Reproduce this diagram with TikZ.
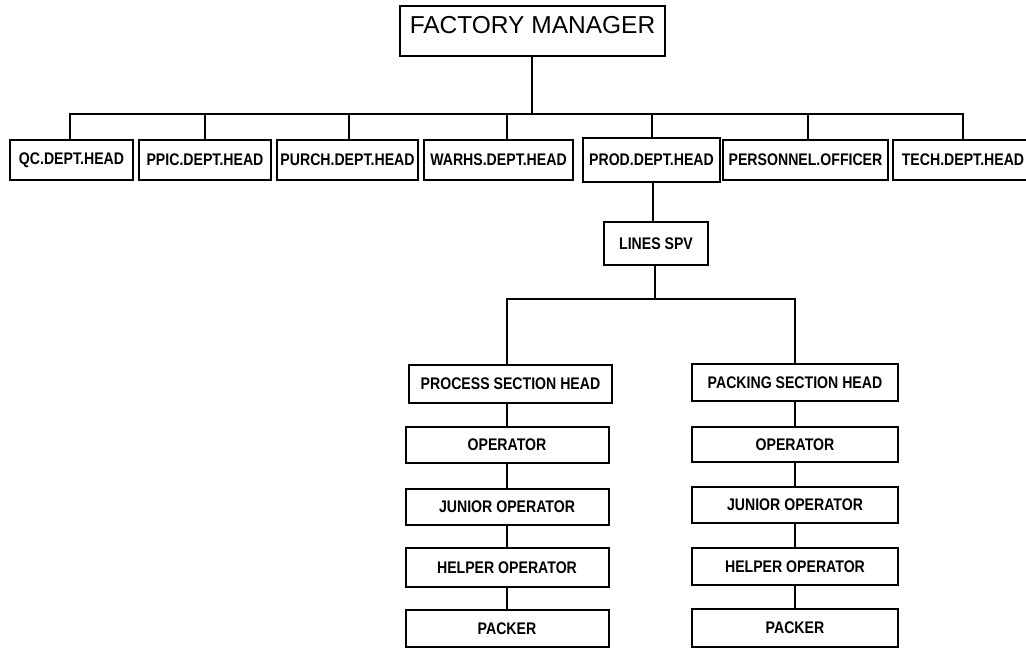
\documentclass[tikz,border=0pt]{standalone}
\usepackage{fontspec}
\setmainfont{Liberation Sans}
\newfontfamily\condfont[FakeStretch=0.84]{Liberation Sans}
\begin{document}
\begin{tikzpicture}[x=1pt,y=-1pt,
  box/.style={draw, line width=2pt, rectangle, inner sep=0pt, minimum height=40pt,
    font=\condfont\bfseries\fontsize{16.8}{18}\selectfont},
  conn/.style={line width=2pt}]
\useasboundingbox (0,0) rectangle (1026,648);
% top
\node[draw, line width=2pt, anchor=north, inner sep=0pt, minimum width=265pt,
  text height=27pt, text depth=23pt, font=\fontsize{24.5}{26}\selectfont]
  (fm) at (532.5,5) {FACTORY MANAGER};
% department heads
\node[box, minimum width=123pt] (qc) at (71.5,160) {QC.DEPT.HEAD};
\node[box, minimum width=132pt] (ppic) at (205,160) {PPIC.DEPT.HEAD};
\node[box, minimum width=141pt] (purch) at (347.5,160) {PURCH.DEPT.HEAD};
\node[box, minimum width=149pt] (warhs) at (498.5,160) {WARHS.DEPT.HEAD};
\node[box, minimum width=137pt, minimum height=44pt] (prod) at (651.5,160) {PROD.DEPT.HEAD};
\node[box, minimum width=165pt] (pers) at (805.5,160) {PERSONNEL.OFFICER};
\node[box, minimum width=140pt] (tech) at (963,160) {TECH.DEPT.HEAD};
% lines spv
\node[box, minimum width=104pt, minimum height=43pt] (spv) at (656,243.5) {LINES SPV};
% sections
\node[box, minimum width=203pt, minimum height=38pt] (psh) at (510.5,384) {PROCESS SECTION HEAD};
\node[box, minimum width=206pt, minimum height=37pt] (ksh) at (795,382.5) {PACKING SECTION HEAD};
% left column
\node[box, minimum width=203pt, minimum height=36pt] (op1) at (507,445) {OPERATOR};
\node[box, minimum width=203pt, minimum height=36pt] (jo1) at (507,507) {JUNIOR OPERATOR};
\node[box, minimum width=203pt, minimum height=39pt] (ho1) at (507,567.5) {HELPER OPERATOR};
\node[box, minimum width=203pt, minimum height=37pt] (pk1) at (507,628.5) {PACKER};
% right column
\node[box, minimum width=206pt, minimum height=35pt] (op2) at (795,444.5) {OPERATOR};
\node[box, minimum width=206pt, minimum height=36pt] (jo2) at (795,505) {JUNIOR OPERATOR};
\node[box, minimum width=206pt, minimum height=37pt] (ho2) at (795,566.5) {HELPER OPERATOR};
\node[box, minimum width=206pt, minimum height=38pt] (pk2) at (795,628) {PACKER};
% connectors top
\coordinate (bus) at (532,114);
\draw[conn] (fm.south -| bus) -- (bus);
\draw[conn] (qc.north -| 70,0) -- (bus -| 70,0) -- (bus -| tech.north) -- (tech.north);
\draw[conn] (ppic.north) -- (ppic.north |- bus);
\draw[conn] ([xshift=1.5pt]purch.north) -- ([xshift=1.5pt]purch.north |- bus);
\draw[conn] ([xshift=8.5pt]warhs.north) -- ([xshift=8.5pt]warhs.north |- bus);
\draw[conn] ([xshift=0.5pt]prod.north) -- ([xshift=0.5pt]prod.north |- bus);
\draw[conn] ([xshift=2.5pt]pers.north) -- ([xshift=2.5pt]pers.north |- bus);
% prod to spv
\draw[conn] ([xshift=1.5pt]prod.south) -- ([xshift=1.5pt]prod.south |- spv.north);
% spv to sections
\coordinate (bus2) at (655,299);
\draw[conn] (spv.south -| bus2) -- (bus2);
\draw[conn] (op1.north |- psh.north) -- (op1.north |- bus2) -- (ksh.north |- bus2) -- (ksh.north);
% left column
\draw[conn] (op1.north |- psh.south) -- (op1.north);
\draw[conn] (op1.south) -- (jo1.north);
\draw[conn] (jo1.south) -- (ho1.north);
\draw[conn] (ho1.south) -- (pk1.north);
% right column
\draw[conn] (ksh.south) -- (op2.north);
\draw[conn] (op2.south) -- (jo2.north);
\draw[conn] (jo2.south) -- (ho2.north);
\draw[conn] (ho2.south) -- (pk2.north);
\end{tikzpicture}
\end{document}
